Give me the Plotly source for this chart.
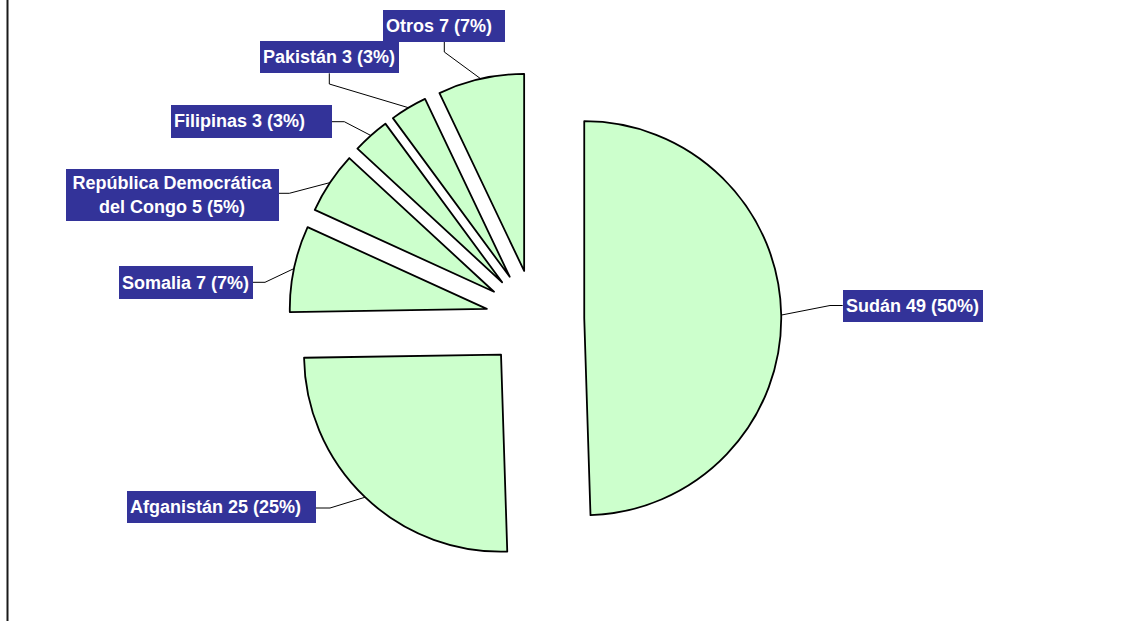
import math
import plotly.graph_objects as go

# ---- data ----
countries = ["Sudán", "Afganistán", "Somalia", "República Democrática<br>del Congo",
             "Filipinas", "Pakistán", "Otros"]
values = [49, 25, 7, 5, 3, 3, 7]
percents = [50, 25, 7, 5, 3, 3, 7]

# ---- layout constants (pixels) ----
W, H = 1146, 621
CX, CY, R = 535.0, 319.0, 197.0
PULL = 0.25
FILL = "#CCFFCC"
LABEL_BG = "#333399"

# label boxes: left, top, right, bottom ; elbow point ; end point ; align
boxes = [
    (842.7, 290.0, 982.7, 322.3),
    (126.7, 491.0, 316.0, 523.3),
    (119.0, 265.7, 253.0, 298.7),
    (66.0, 169.0, 279.0, 220.7),
    (171.0, 105.0, 331.7, 137.7),
    (260.0, 41.0, 399.0, 73.3),
    (383.3, 10.0, 505.7, 41.7),
]
elbows = [(830, 305.5), (330, 508), (265, 282.3), (289.3, 193.3),
          (344.3, 121.7), (329.3, 84), (444.3, 52)]
ends = [(842.7, 305.5), (316, 508), (253, 282.3), (279, 193.3),
        (331.7, 121.7), (329.3, 73.3), (444.3, 41.7)]
aligns = ["left", "left", "left", "center", "left", "left", "left"]

def px(x):
    return x / W

def py(y):
    return 1 - y / H

avail = R * (2 + 2 * PULL)
y0 = 1 - (CY + avail / 2) / H
y1 = y0 + avail / H
half_w = 300
fig = go.Figure(go.Pie(
    labels=countries,
    values=values,
    sort=False,
    direction="clockwise",
    rotation=0,
    pull=[PULL] * len(values),
    textinfo="none",
    hoverinfo="skip",
    marker=dict(colors=[FILL] * len(values), line=dict(color="black", width=1.8)),
    domain=dict(x=[(CX - half_w) / W, (CX + half_w) / W], y=[y0, y1]),
    showlegend=False,
))

total = sum(values)
shapes = []
annotations = []
cum = 0
for i, v in enumerate(values):
    mid = math.radians((cum + v / 2) / total * 360)
    cum += v
    p = PULL * R
    ax = CX + (p + R) * math.sin(mid)
    ay = CY - (p + R) * math.cos(mid)
    ex, ey = elbows[i]
    fx, fy = ends[i]
    shapes.append(dict(
        type="path", xref="paper", yref="paper",
        path=f"M {px(ax)},{py(ay)} L {px(ex)},{py(ey)} L {px(fx)},{py(fy)}",
        line=dict(color="black", width=1),
    ))
    l, t, r_, b = boxes[i]
    pad = 3
    annotations.append(dict(
        xref="paper", yref="paper",
        x=px(l), y=py(t), xanchor="left", yanchor="top",
        text=f"{countries[i]} {values[i]} ({percents[i]}%)",
        showarrow=False,
        bgcolor=LABEL_BG,
        borderpad=pad, borderwidth=0,
        width=(r_ - l) - 2 * pad, height=(b - t) - 2 * pad,
        align=aligns[i], valign="middle",
        font=dict(family="Liberation Sans, Arial, sans-serif", size=18, color="white", weight="bold"),
    ))

# left frame line
shapes.append(dict(type="line", xref="paper", yref="paper",
                   x0=px(7.5), x1=px(7.5), y0=0, y1=1,
                   line=dict(color="#1a1a1a", width=2)))

fig.update_layout(
    width=W, height=H,
    margin=dict(l=0, r=0, t=0, b=0),
    paper_bgcolor="white", plot_bgcolor="white",
    shapes=shapes, annotations=annotations,
)
fig.write_html("out.html", config={"displayModeBar": False},
               post_script="document.body.style.margin='0px';document.body.style.overflow='hidden';")
